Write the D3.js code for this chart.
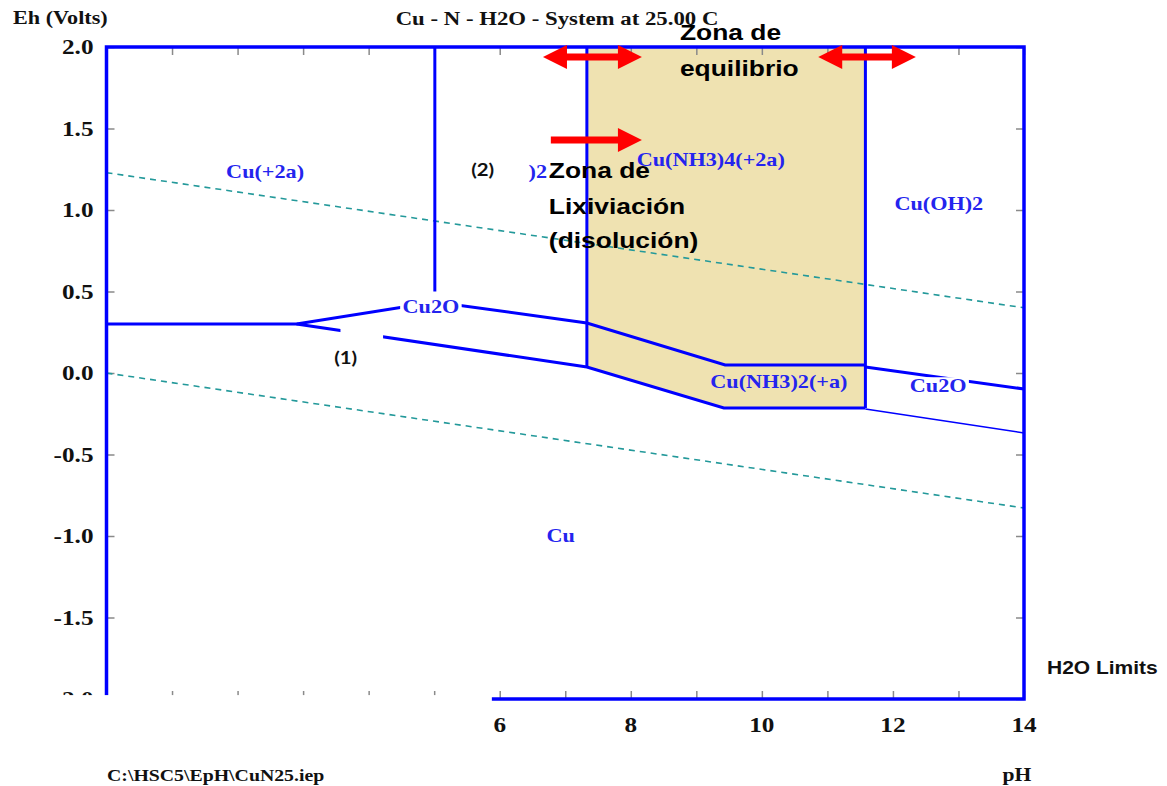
<!DOCTYPE html>
<html>
<head>
<meta charset="utf-8">
<script src="https://cdn.jsdelivr.net/npm/d3@7"></script>
<style>
  body { margin: 0; background: #fff; }
  svg { display: block; }
</style>
</head>
<body>
<div id="chart"></div>
<script>
// data (pH, Eh in volts)
var ehTicks = [2.0, 1.5, 1.0, 0.5, 0.0, -0.5, -1.0, -1.5, -2.0];
var phTicks = [0, 1, 2, 3, 4, 5, 6, 7, 8, 9, 10, 11, 12, 13, 14];
var phTickLabels = [6, 8, 10, 12, 14];

var waterUpper = [[0, 1.229], [14, 0.40]];
var waterLower = [[0, 0.0], [14, -0.828]];

var upperBoundary = [[0, 0.30], [2.9, 0.30], [5.01, 0.436], [7.33, 0.307], [9.44, 0.049], [11.58, 0.049]];
var upperRight = [[11.58, 0.037], [14, -0.098]];
var lowerBoundary = [[2.9, 0.30], [7.33, 0.037], [9.42, -0.215], [11.58, -0.215]];
var lowerRight = [[11.58, -0.221], [14, -0.368]];
var verticals = [[5.01, 2.0, 0.5], [7.33, 2.0, 0.037], [11.58, 2.0, -0.215]];
var leachZone = [[7.33, 2.0], [11.58, 2.0], [11.58, -0.215], [9.42, -0.215], [7.33, 0.037]];

var species = ["Cu(+2a)", "Cu2O", ")2", "Cu(NH3)4(+2a)", "Cu(OH)2", "Cu(NH3)2(+a)", "Cu2O", "Cu"];
var speciesPh = [2.42, 4.95, 6.58, 9.22, 12.70, 10.26, 12.69, 6.93];
var speciesEh = [1.233, 0.405, 1.233, 1.307, 1.037, -0.055, -0.074, -0.994];
var speciesBox = [false, true, false, false, false, false, true, false];

var notes = ["Zona de", "equilibrio", "Zona de", "Lixiviación", "(disolución)"];
var notesPh = [8.75, 8.75, 6.75, 6.75, 6.75];
var notesEh = [2.092, 1.871, 1.245, 1.025, 0.816];

var marks = ["(1)", "(2)"];
var marksPh = [3.65, 5.74];
var marksEh = [0.092, 1.245];

// arrows: [pH from, pH to, Eh, double headed]
var arrows = [[6.66, 8.17, 1.939, true], [10.86, 12.35, 1.939, true], [6.78, 8.17, 1.429, false]];

var width = 1167, height = 786;
var blue = "#0000ff", labelBlue = "#2424ee", ink = "#111";
var sx = 1.2; // the picture is stretched sideways

var svg = d3.select("#chart").append("svg").attr("width", width).attr("height", height);

var x = d3.scaleLinear().domain([0, 14]).range([106.5, 1024]);
var y = d3.scaleLinear().domain([-2, 2]).range([699, 47]);
var line = d3.line().x(function(d) { return x(d[0]); }).y(function(d) { return y(d[1]); });

function label(px, py, s, font, size, color, anchor, boxed) {
  var g = svg.append("g").attr("transform", "translate(" + px + "," + py + ") scale(" + sx + ",1)");
  var t = g.append("text").text(s)
      .attr("font-family", font).attr("font-weight", "bold").attr("font-size", size)
      .attr("fill", color).attr("text-anchor", anchor || "start").attr("dy", "0.35em");
  if (boxed) {
    var b = t.node().getBBox();
    g.insert("rect", "text").attr("x", b.x - 2).attr("y", b.y + 2).attr("width", b.width + 4)
        .attr("height", b.height - 2).attr("fill", "#fff");
  }
  return g;
}

// tan zone
svg.append("path").attr("d", line(leachZone) + "Z").attr("fill", "#efe2b1");

// ticks, inward, grey
function ticks(ax, tr) {
  var g = svg.append("g").attr("transform", tr).call(ax);
  g.select(".domain").remove();
  g.selectAll(".tick line").attr("stroke", "#8a8a8a").attr("stroke-width", 1.5);
  g.selectAll(".tick text").remove();
}
ticks(d3.axisLeft(y).tickValues(ehTicks).tickSizeInner(-8).tickSizeOuter(0), "translate(" + x(0) + ",0)");
ticks(d3.axisRight(y).tickValues(ehTicks).tickSizeInner(-8).tickSizeOuter(0), "translate(" + x(14) + ",0)");
ticks(d3.axisTop(x).tickValues(phTicks).tickSizeInner(-8).tickSizeOuter(0), "translate(0," + y(2) + ")");
ticks(d3.axisBottom(x).tickValues(phTicks).tickSizeInner(-8).tickSizeOuter(0), "translate(0," + y(-2) + ")");

// water stability limits
[waterUpper, waterLower].forEach(function(w) {
  svg.append("path").attr("d", line(w)).attr("fill", "none")
      .attr("stroke", "#23999a").attr("stroke-width", 1.6).attr("stroke-dasharray", "6,5");
});

// boundaries
[upperBoundary, upperRight, lowerBoundary].forEach(function(b) {
  svg.append("path").attr("d", line(b)).attr("fill", "none").attr("stroke", blue).attr("stroke-width", 3);
});
svg.append("path").attr("d", line(lowerRight)).attr("fill", "none").attr("stroke", blue).attr("stroke-width", 1.5);
verticals.forEach(function(v) {
  svg.append("line").attr("x1", x(v[0])).attr("x2", x(v[0])).attr("y1", y(v[1])).attr("y2", y(v[2]))
      .attr("stroke", blue).attr("stroke-width", 3);
});

// frame
svg.append("rect").attr("x", x(0)).attr("y", y(2)).attr("width", x(14) - x(0)).attr("height", y(-2) - y(2))
    .attr("fill", "none").attr("stroke", blue).attr("stroke-width", 3.5);

// white patch pasted over the lower branch
svg.append("rect").attr("x", x(3.57)).attr("y", y(0.29)).attr("width", x(4.22) - x(3.57))
    .attr("height", y(0.16) - y(0.29)).attr("fill", "#fff");

// species labels
species.forEach(function(s, k) {
  label(x(speciesPh[k]), y(speciesEh[k]), s, "Liberation Serif", 18.5, labelBlue, "middle", speciesBox[k]);
});

// axis labels
ehTicks.forEach(function(v) {
  label(x(0) - 13, y(v), v.toFixed(1), "Liberation Serif", 21, ink, "end");
});

// white block pasted over the left part of the pH axis
svg.append("rect").attr("x", 0).attr("y", y(-1.976)).attr("width", x(5.88))
    .attr("height", 55).attr("fill", "#fff");

phTickLabels.forEach(function(v) {
  label(x(v), 725, String(v), "Liberation Serif", 21, ink, "middle");
});

label(13, 18, "Eh (Volts)", "Liberation Serif", 18.5, ink, "start");
label(557, 18, "Cu - N - H2O - System at 25.00 C", "Liberation Serif", 19, ink, "middle");
label(107, 775, "C:\\HSC5\\EpH\\CuN25.iep", "Liberation Serif", 16.5, ink, "start");
label(1017, 775, "pH", "Liberation Serif", 18, ink, "middle");
label(1047, 668, "H2O Limits", "Liberation Sans", 17.5, ink, "start");

// annotations
notes.forEach(function(s, k) {
  label(x(notesPh[k]), y(notesEh[k]), s, "Liberation Sans", 22, "#000", "start");
});
marks.forEach(function(s, k) {
  label(x(marksPh[k]), y(marksEh[k]), s, "Lato", 17, "#111", "middle");
});

// red arrows
function arrowPath(x0, x1, yy, both) {
  var hl = 24, hw = 12, sw = 3.5;
  var p = [];
  p.push([x1, yy], [x1 - hl, yy - hw], [x1 - hl, yy - sw]);
  if (both) p.push([x0 + hl, yy - sw], [x0 + hl, yy - hw], [x0, yy], [x0 + hl, yy + hw], [x0 + hl, yy + sw]);
  else p.push([x0, yy - sw], [x0, yy + sw]);
  p.push([x1 - hl, yy + sw], [x1 - hl, yy + hw]);
  return "M" + p.map(function(q) { return q.join(","); }).join("L") + "Z";
}
arrows.forEach(function(a) {
  svg.append("path").attr("d", arrowPath(x(a[0]), x(a[1]), y(a[2]), a[3])).attr("fill", "#ff0000");
});
</script>
</body>
</html>
